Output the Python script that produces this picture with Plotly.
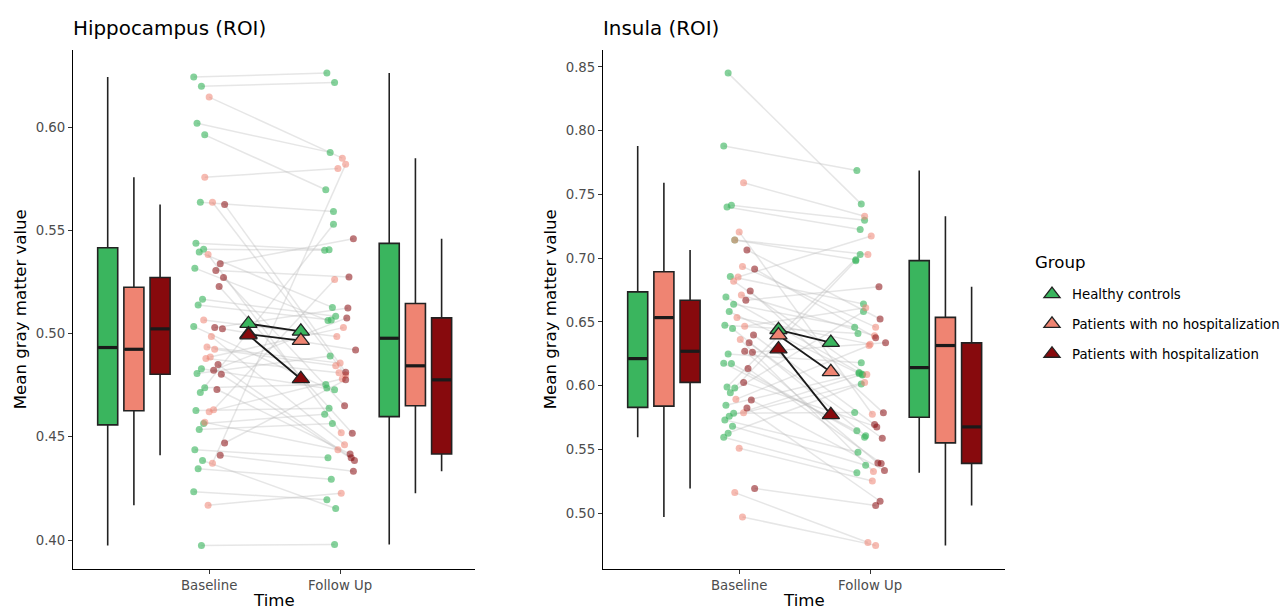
import numpy as np
import plotly.graph_objects as go

# ---------------- data ----------------
groups = ["Healthy controls", "Patients with no hospitalization", "Patients with hospitalization"]
time_labels = ["Baseline", "Follow Up"]
panel_titles = ["Hippocampus (ROI)", "Insula (ROI)"]
y_title = "Mean gray matter value"
x_title = "Time"
legend_title = "Group"

# Hippocampus: paired subjects (baseline i <-> follow up i)
hip_hc_base = [0.6243, 0.6198, 0.6019, 0.5963, 0.5636, 0.5438, 0.5409, 0.5395, 0.5317, 0.5166, 0.5139, 0.5035,
               0.4830, 0.4807, 0.4738, 0.4715, 0.4628, 0.4565, 0.4536, 0.4437, 0.4385, 0.4345, 0.4234, 0.3974]
hip_hc_fu = [0.6262, 0.6217, 0.5878, 0.5697, 0.5591, 0.5406, 0.5404, 0.5127, 0.5063, 0.5084, 0.5066, 0.4736,
             0.4728, 0.4892, 0.4754, 0.5530, 0.4638, 0.4609, 0.4564, 0.4399, 0.4153, 0.4295, 0.4195, 0.3978]
hip_nh_base = [0.6146, 0.5757, 0.5636, 0.5383, 0.5066, 0.4986, 0.4935, 0.4924, 0.4887, 0.4879, 0.4631, 0.4622,
               0.4570, 0.4372, 0.4169]
hip_nh_fu = [0.5850, 0.5800, 0.4800, 0.4520, 0.4986, 0.4462, 0.4857, 0.4844, 0.5029, 0.4810, 0.5262, 0.4781,
             0.4437, 0.5820, 0.4227]
hip_h_base = [0.5625, 0.5338, 0.5306, 0.5272, 0.5228, 0.5029, 0.5023, 0.4850, 0.4823, 0.4803, 0.4729, 0.4470, 0.4411]
hip_h_fu = [0.4813, 0.5460, 0.5274, 0.4651, 0.4517, 0.5124, 0.4921, 0.4398, 0.5076, 0.4385, 0.4417, 0.4776, 0.4333]

# Insula
ins_hc_base = [0.8451, 0.7880, 0.7414, 0.7401, 0.7143, 0.6857, 0.6695, 0.6638, 0.6581, 0.6474, 0.6448, 0.6248,
               0.6177, 0.6174, 0.5990, 0.5982, 0.5945, 0.5846, 0.5784, 0.5760, 0.5732, 0.5682, 0.5628, 0.5596]
ins_hc_fu = [0.7424, 0.7688, 0.7297, 0.7224, 0.6987, 0.6641, 0.6104, 0.6459, 0.6083, 0.6409, 0.5607, 0.6180,
             0.5646, 0.5596, 0.7029, 0.6979, 0.6581, 0.6096, 0.5789, 0.6090, 0.5479, 0.5377, 0.6013, 0.5318]
ins_nh_base = [0.7591, 0.7206, 0.7143, 0.6935, 0.6852, 0.6820, 0.6711, 0.6534, 0.6466, 0.6362, 0.5893, 0.5787,
               0.5510, 0.5162, 0.4971]
ins_nh_fu = [0.7328, 0.5776, 0.7029, 0.6459, 0.7174, 0.6088, 0.6391, 0.6326, 0.6612, 0.5328, 0.6315, 0.6026,
             0.5253, 0.4771, 0.4748]
ins_h_base = [0.7065, 0.6916, 0.6742, 0.6670, 0.6398, 0.6336, 0.6270, 0.6263, 0.6135, 0.6026, 0.5888, 0.5826, 0.5195]
ins_h_fu = [0.6523, 0.6377, 0.5787, 0.6776, 0.5695, 0.5588, 0.5393, 0.6336, 0.5391, 0.5677, 0.5336, 0.5094, 0.5060]

panels = [
    [(hip_hc_base, hip_hc_fu), (hip_nh_base, hip_nh_fu), (hip_h_base, hip_h_fu)],
    [(ins_hc_base, ins_hc_fu), (ins_nh_base, ins_nh_fu), (ins_h_base, ins_h_fu)],
]

# ---------------- style ----------------
W, H = 1285, 611
FONT = "DejaVu Sans"
box_colors = ["#3AB55E", "#EF8472", "#870A0D"]
point_colors = ["rgba(58,181,94,0.62)", "rgba(239,132,114,0.55)", "rgba(135,10,13,0.55)"]
outline = "#222222"

panel_px = [(73, 475), (603, 1005)]
top_px, bottom_px = 49.5, 569
x_range = [-0.04, 3.03]
box_w = 0.153
box_pos_base = [0.225, 0.425, 0.625]
box_pos_fu = [2.375, 2.575, 2.775]
pt_dodge = [-0.076, 0.0, 0.076]
mean_x = [1.3, 1.7]
jit = 0.042


def jitter(n, seed):
    return [jit * ((((i * 7 + seed * 5) % 11) / 5.0) - 1.0) for i in range(n)]


def box_stats(v):
    v = np.sort(np.asarray(v))
    q1, med, q3 = np.percentile(v, [25, 50, 75])
    iqr = q3 - q1
    lf = v[v >= q1 - 1.5 * iqr].min()
    uf = v[v <= q3 + 1.5 * iqr].max()
    return q1, med, q3, lf, uf


fig = go.Figure()
layout_axes = {}

for p, pdata in enumerate(panels):
    xa = "x" if p == 0 else "x2"
    ya = "y" if p == 0 else "y2"
    allv = np.concatenate([np.concatenate([b, f]) for b, f in pdata])
    lo, hi = allv.min(), allv.max()
    ex = (hi - lo) * 0.05
    x0, x1 = panel_px[p]
    layout_axes["xaxis" + ("" if p == 0 else "2")] = dict(
        domain=[x0 / W, x1 / W], range=x_range, anchor=ya,
        tickvals=[1, 2], ticktext=time_labels, showline=True, linecolor="black", linewidth=1.1,
        ticks="outside", ticklen=4, tickwidth=1.1, tickcolor="#333333", showgrid=False, zeroline=False,
        tickfont=dict(family=FONT, size=13.3, color="#4D4D4D"), fixedrange=True)
    layout_axes["yaxis" + ("" if p == 0 else "2")] = dict(
        domain=[(H - bottom_px) / H, (H - top_px) / H], range=[lo - ex, hi + ex], anchor=xa,
        tick0=0, dtick=0.05, tickformat=".2f", showline=True, linecolor="black", linewidth=1.1,
        ticks="outside", ticklen=4, tickwidth=1.1, tickcolor="#333333", showgrid=False, zeroline=False,
        tickfont=dict(family=FONT, size=13.3, color="#4D4D4D"), fixedrange=True)

    # boxplots
    for g, (b, f) in enumerate(pdata):
        for pos, vals in ((box_pos_base[g], b), (box_pos_fu[g], f)):
            q1, med, q3, lf, uf = box_stats(vals)
            fig.add_trace(go.Box(x=[pos], q1=[q1], median=[med], q3=[q3], lowerfence=[lf], upperfence=[uf],
                                 width=box_w, fillcolor=box_colors[g], line=dict(color=outline, width=1.6),
                                 whiskerwidth=0, boxpoints=False, showlegend=False, hoverinfo="skip",
                                 xaxis=xa, yaxis=ya))
            fig.add_trace(go.Scatter(x=[pos - box_w / 2 + 0.004, pos + box_w / 2 - 0.004], y=[med, med],
                                     mode="lines", line=dict(color="#1a1a1a", width=3.2),
                                     showlegend=False, hoverinfo="skip", xaxis=xa, yaxis=ya))

    # paired lines
    lx, ly = [], []
    pts = []
    for g, (b, f) in enumerate(pdata):
        jb = jitter(len(b), g + 3 * p)
        jf = jitter(len(f), g + 3 * p + 7)
        bx = [1 + pt_dodge[g] + j for j in jb]
        fx = [2 + pt_dodge[g] + j for j in jf]
        for i in range(len(b)):
            lx += [bx[i], fx[i], None]
            ly += [b[i], f[i], None]
        pts.append((bx + fx, list(b) + list(f)))
    fig.add_trace(go.Scatter(x=lx, y=ly, mode="lines", line=dict(color="rgba(185,185,185,0.36)", width=1.5),
                             showlegend=False, hoverinfo="skip", xaxis=xa, yaxis=ya))
    for g, (px, py) in enumerate(pts):
        fig.add_trace(go.Scatter(x=px, y=py, mode="markers",
                                 marker=dict(size=7, color=point_colors[g], line=dict(width=0)),
                                 showlegend=False, hoverinfo="skip", xaxis=xa, yaxis=ya))
    # means
    for g, (b, f) in enumerate(pdata):
        fig.add_trace(go.Scatter(x=mean_x, y=[np.mean(b), np.mean(f)], mode="lines",
                                 line=dict(color="#1a1a1a", width=1.8),
                                 showlegend=False, hoverinfo="skip", xaxis=xa, yaxis=ya))
    for g, (b, f) in enumerate(pdata):
        fig.add_trace(go.Scatter(x=mean_x, y=[np.mean(b), np.mean(f)], mode="markers",
                                 marker=dict(symbol="triangle-up", size=15, color=box_colors[g],
                                             line=dict(color=outline, width=1.3)),
                                 showlegend=False, hoverinfo="skip", xaxis=xa, yaxis=ya))

# legend entries
for g, name in enumerate(groups):
    fig.add_trace(go.Scatter(x=[None], y=[None], mode="markers", name=name, legendgroup=name,
                             marker=dict(symbol="triangle-up", size=14, color=box_colors[g],
                                         line=dict(color=outline, width=1.3))))

annotations = []
for p in range(2):
    x0, x1 = panel_px[p]
    annotations.append(dict(text=panel_titles[p], xref="paper", yref="paper", x=(x0 - 2) / W, y=(H - 28) / H,
                            xanchor="left", yanchor="middle", showarrow=False,
                            font=dict(family=FONT, size=19.9, color="black")))
    annotations.append(dict(text=x_title, xref="paper", yref="paper", x=(x0 + x1) / 2 / W, y=(H - 600) / H,
                            xanchor="center", yanchor="middle", showarrow=False,
                            font=dict(family=FONT, size=16.6, color="black")))
    annotations.append(dict(text=y_title, xref="paper", yref="paper", x=(x0 - 53) / W,
                            y=(H - (top_px + bottom_px) / 2) / H, textangle=-90,
                            xanchor="center", yanchor="middle", showarrow=False,
                            font=dict(family=FONT, size=16.6, color="black")))
annotations.append(dict(text=legend_title, xref="paper", yref="paper", x=1033 / W, y=(H - 262) / H,
                        xanchor="left", yanchor="middle", showarrow=False,
                        font=dict(family=FONT, size=16.6, color="black")))

fig.update_layout(
    width=W, height=H, margin=dict(l=0, r=0, t=0, b=0),
    paper_bgcolor="white", plot_bgcolor="white",
    font=dict(family=FONT, color="black"),
    annotations=annotations,
    legend=dict(x=1032 / W, xanchor="left", y=(H - 279) / H, yanchor="top",
                font=dict(family=FONT, size=13.3, color="black"), tracegroupgap=9.5,
                bgcolor="rgba(0,0,0,0)"),
    **layout_axes,
)

fig.write_html("out.html", config={"displayModeBar": False},
               post_script="document.body.style.margin='0';document.body.style.padding='0';")
